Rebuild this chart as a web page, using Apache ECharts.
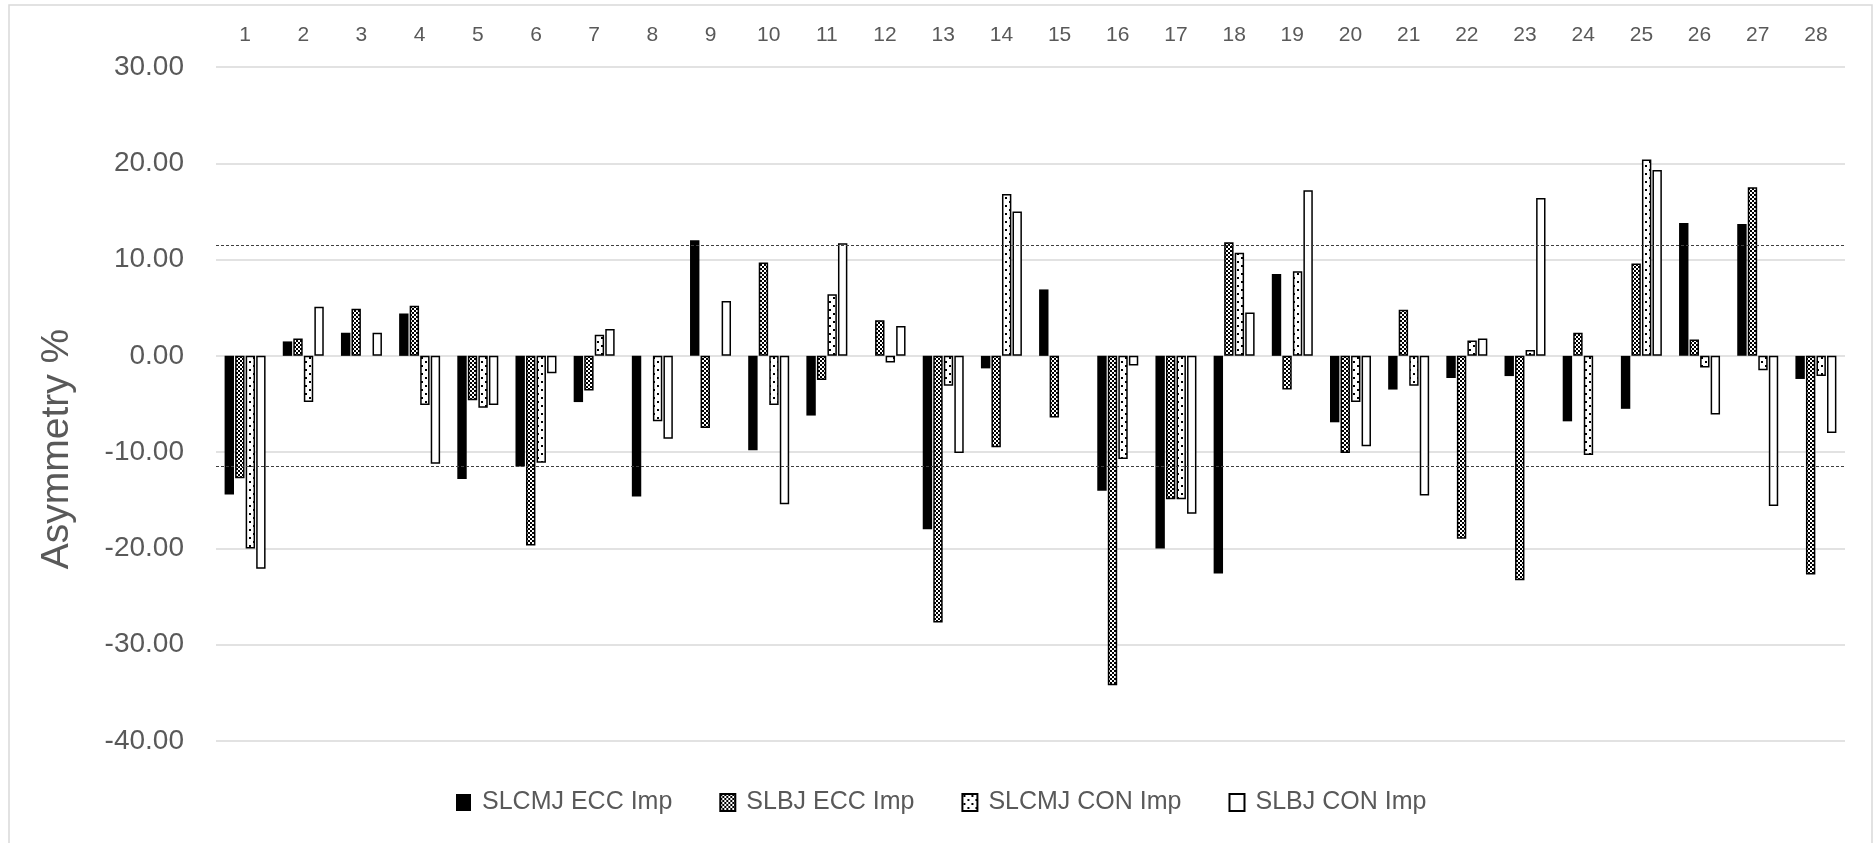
<!DOCTYPE html>
<html>
<head>
<meta charset="utf-8">
<title>Asymmetry %</title>
<script src="https://cdn.jsdelivr.net/npm/echarts@6/dist/echarts.min.js"></script>
<style>
  html, body { margin: 0; padding: 0; background: #fff; }
  #chart { width: 1874px; height: 843px; }
</style>
</head>
<body>
<div id="chart"></div>
<script>
// values
const categories = ['1', '2', '3', '4', '5', '6', '7', '8', '9', '10', '11', '12', '13', '14',
    '15', '16', '17', '18', '19', '20', '21', '22', '23', '24', '25', '26', '27', '28'];

const slcmjEcc = [-14.4, 1.5, 2.4, 4.4, -12.8, -11.5, -4.8, -14.6, 12.0, -9.8, -6.2, null, -18.0, -1.3,
    6.9, -14.0, -20.0, -22.6, 8.5, -6.9, -3.5, -2.3, -2.1, -6.8, -5.5, 13.8, 13.7, -2.4];
const slbjEcc = [-12.7, 1.8, 4.9, 5.2, -4.6, -19.7, -3.6, null, -7.5, 9.7, -2.5, 3.7, -27.7, -9.5,
    -6.4, -34.2, -14.9, 11.8, -3.5, -10.1, 4.8, -19.0, -23.3, 2.4, 9.6, 1.7, 17.5, -22.7];
const slcmjCon = [-20.0, -4.8, null, -5.1, -5.4, -11.1, 2.2, -6.8, null, -5.1, 6.4, -0.7, -3.1, 16.8,
    null, -10.7, -14.9, 10.7, 8.8, -4.8, -3.1, 1.6, 0.6, -10.3, 20.4, -1.2, -1.5, -2.1];
const slbjCon = [-22.1, 5.1, 2.4, -11.2, -5.1, -1.8, 2.8, -8.6, 5.7, -15.4, 11.7, 3.1, -10.1, 15.0,
    null, -1.0, -16.4, 4.5, 17.2, -9.4, -14.5, 1.8, 16.4, null, 19.3, -6.1, -15.6, -8.0];

const seriesNames = ['SLCMJ ECC Imp', 'SLBJ ECC Imp', 'SLCMJ CON Imp', 'SLBJ CON Imp'];
const thresholds = [11.5, -11.5];

const FONT = 'Liberation Sans';
const TEXT = '#595959';

function makeChecker() {
    const c = document.createElement('canvas');
    c.width = 4; c.height = 4;
    const g = c.getContext('2d');
    g.fillStyle = '#fff';
    g.fillRect(0, 0, 4, 4);
    g.fillStyle = '#000';
    g.fillRect(0, 0, 2, 2);
    g.fillRect(2, 2, 2, 2);
    return c;
}

function makeDots() {
    const c = document.createElement('canvas');
    c.width = 8; c.height = 8;
    const g = c.getContext('2d');
    g.fillStyle = '#fff';
    g.fillRect(0, 0, 8, 8);
    g.fillStyle = '#000';
    g.fillRect(1, 1, 2, 2);
    g.fillRect(5, 5, 2, 2);
    return c;
}

const chart = echarts.init(document.getElementById('chart'));

const barBase = {
    type: 'bar',
    barWidth: 9.4,
    barGap: '12%'
};

chart.setOption({
    animation: false,
    backgroundColor: '#fff',
    textStyle: { fontFamily: FONT },
    graphic: [
        {
            type: 'rect',
            shape: { x: 9, y: 5, width: 1863, height: 850 },
            style: { fill: null, stroke: '#d9d9d9', lineWidth: 1.5 },
            silent: true
        },
        {
            type: 'text',
            x: 57,
            y: 449,
            rotation: Math.PI / 2,
            style: {
                text: 'Asymmetry %',
                fill: TEXT,
                font: '39px ' + FONT,
                align: 'center',
                verticalAlign: 'middle'
            },
            silent: true
        }
    ],
    grid: {
        left: 216,
        right: 29,
        top: 67,
        bottom: 102,
        containLabel: false
    },
    legend: {
        left: 451,
        top: 785,
        icon: 'rect',
        itemWidth: 15,
        itemHeight: 17,
        itemGap: 47,
        selectedMode: false,
        textStyle: {
            fontFamily: FONT,
            fontSize: 25,
            color: TEXT,
            padding: [0, 0, 0, 6]
        },
        data: seriesNames
    },
    xAxis: {
        type: 'category',
        position: 'top',
        data: categories,
        axisLine: { show: false },
        axisTick: { show: false },
        axisLabel: {
            fontSize: 21,
            color: TEXT,
            margin: 21
        },
        splitLine: { show: false }
    },
    yAxis: {
        type: 'value',
        min: -40,
        max: 30,
        interval: 10,
        axisLine: { show: false },
        axisTick: { show: false },
        axisLabel: {
            fontSize: 28,
            color: TEXT,
            margin: 32,
            formatter: v => v.toFixed(2)
        },
        splitLine: { lineStyle: { color: '#d9d9d9', width: 1.5 } }
    },
    series: [
        Object.assign({}, barBase, {
            name: seriesNames[0],
            data: slcmjEcc,
            itemStyle: { color: '#000', borderColor: '#000', borderWidth: 0 },
            markLine: {
                silent: true,
                symbol: 'none',
                label: { show: false },
                lineStyle: { type: [3, 2], color: '#404040', width: 1 },
                data: thresholds.map(t => ({ yAxis: t }))
            }
        }),
        Object.assign({}, barBase, {
            name: seriesNames[1],
            data: slbjEcc,
            itemStyle: {
                color: { image: makeChecker(), repeat: 'repeat' },
                borderColor: '#000',
                borderWidth: 1.5
            }
        }),
        Object.assign({}, barBase, {
            name: seriesNames[2],
            data: slcmjCon,
            itemStyle: {
                color: { image: makeDots(), repeat: 'repeat' },
                borderColor: '#000',
                borderWidth: 1.5
            }
        }),
        Object.assign({}, barBase, {
            name: seriesNames[3],
            data: slbjCon,
            itemStyle: { color: '#fff', borderColor: '#000', borderWidth: 1.5 }
        })
    ]
});
</script>
</body>
</html>
